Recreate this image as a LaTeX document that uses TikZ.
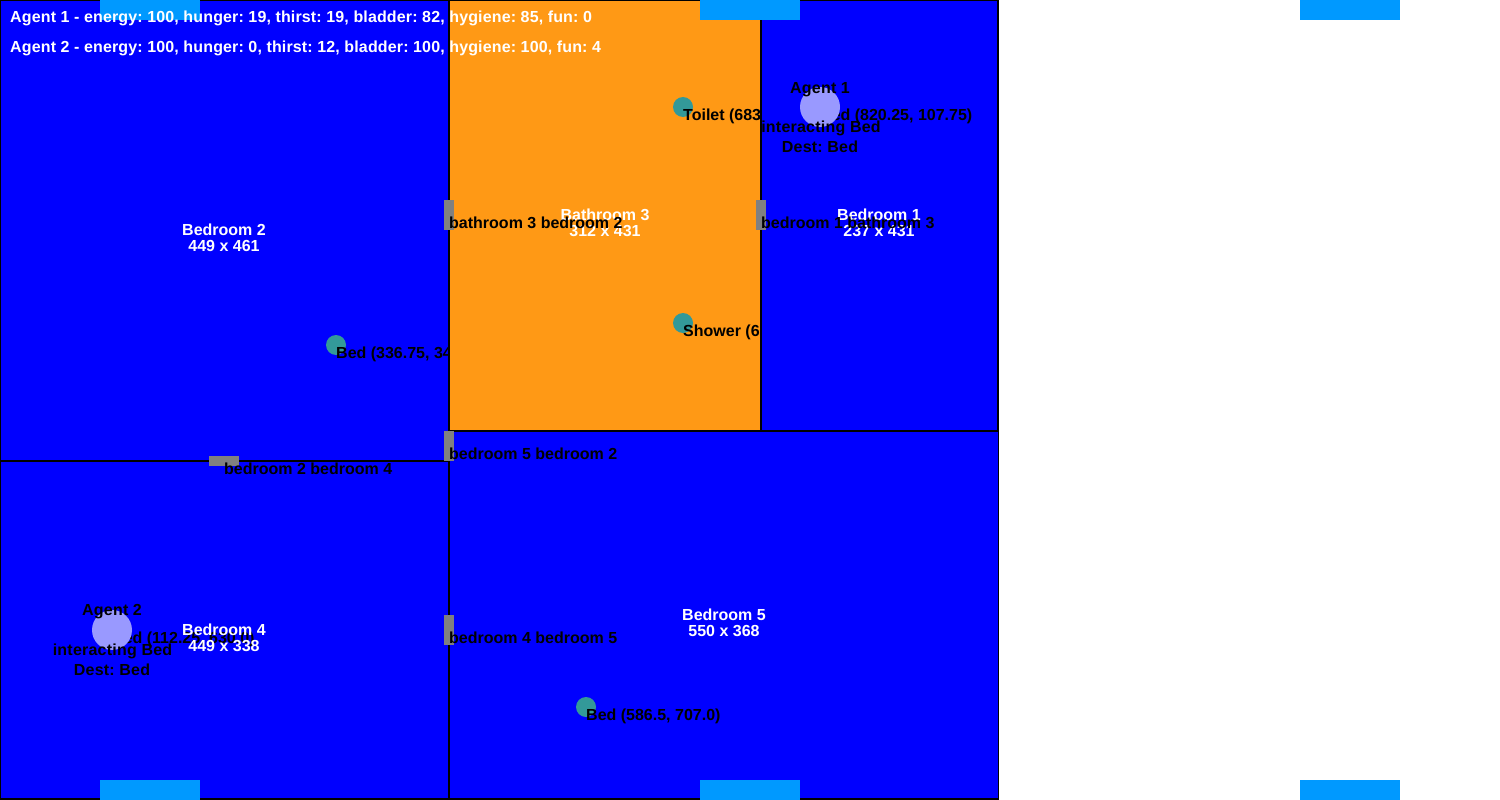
\documentclass[tikz,border=0pt]{standalone}
\usepackage{fontspec}
\setmainfont{Liberation Sans}
\definecolor{roomblue}{RGB}{0,0,255}
\definecolor{roomorange}{RGB}{255,153,21}
\definecolor{windowblue}{RGB}{0,153,255}
\definecolor{doorgray}{RGB}{128,128,128}
\definecolor{objteal}{RGB}{51,153,153}
\definecolor{agentlilac}{RGB}{153,153,255}
\tikzset{
  room/.style={draw=black,line width=1.5pt,fill=roomblue},
  bath/.style={draw=black,line width=1.5pt,fill=roomorange},
  windowbar/.style={fill=windowblue,draw=none},
  doorbar/.style={fill=doorgray,draw=none},
  lbl/.style={inner sep=0pt,font=\fontsize{16}{16}\selectfont\bfseries\frenchspacing},
  roomname/.style={lbl,text=white,anchor=base},
  stat/.style={lbl,font=\fontsize{16}{16}\selectfont\bfseries\frenchspacing\addfontfeatures{LetterSpace=0.9},text=white,anchor=base west},
  objlabel/.style={lbl,text=black,anchor=base west},
  agentlabel/.style={lbl,font=\fontsize{16}{16}\selectfont\bfseries\frenchspacing\addfontfeatures{LetterSpace=1.4},text=black,anchor=base},
  obj/.style={circle,fill=objteal,draw=none,minimum size=20pt,inner sep=0pt},
  agent/.style={circle,fill=agentlilac,draw=none,minimum size=40pt,inner sep=0pt}
}
\begin{document}
\begin{tikzpicture}[x=1pt,y=-1pt]
\useasboundingbox (0,0) rectangle (1500,800);
\fill[white] (0,0) rectangle (1500,800);
% Bedroom 2
\draw[room] (0,0) rectangle (449,461);
\node[obj] (bed2) at (336,345) {};
\node[objlabel] (bed2l) at (336,358) {Bed (336.75, 34};
% Bathroom 3
\draw[bath] (449,0) rectangle (761,431);
\node[obj] (toilet) at (683,107) {};
\node[obj] (shower) at (683,323) {};
\node[objlabel] (toiletl) at (683,120) {Toilet (683};
\node[objlabel] (showerl) at (683,336) {Shower (6};
% Bedroom 1
\draw[room] (761,0) rectangle (998,431);
\node[objlabel] (bed1l) at (820,120) {Bed (820.25, 107.75)};
% Bedroom 4
\draw[room] (0,461) rectangle (449,799);
\node[objlabel] (bed4l) at (112,643) {Bed (112.25, 630.0)};
% Bedroom 5
\draw[room] (449,431) rectangle (998.3,799);
\node[obj] (bed5) at (586,707) {};
\node[objlabel] (bed5l) at (586,720) {Bed (586.5, 707.0)};
% Room names
\node[roomname] (r2a) at (224,235) {Bedroom 2};
\node[roomname] (r2b) at (224,251) {449 x 461};
\node[roomname] (r3a) at (605,220) {Bathroom 3};
\node[roomname] (r3b) at (605,236) {312 x 431};
\node[roomname] (r1a) at (879,220) {Bedroom 1};
\node[roomname] (r1b) at (879,236) {237 x 431};
\node[roomname] (r4a) at (224,635) {Bedroom 4};
\node[roomname] (r4b) at (224,651) {449 x 338};
\node[roomname] (r5a) at (724,620) {Bedroom 5};
\node[roomname] (r5b) at (724,636) {550 x 368};
% Windows
\foreach \wx in {100,700,1300}{
  \fill[windowbar] (\wx,0) rectangle ++(100,20);
  \fill[windowbar] (\wx,780) rectangle ++(100,20);
}
% Doors
\fill[doorbar] (444,200) rectangle (454,230);
\fill[doorbar] (756,200) rectangle (766,230);
\fill[doorbar] (444,431) rectangle (454,461);
\fill[doorbar] (209,456) rectangle (239,466);
\fill[doorbar] (444,615) rectangle (454,645);
\node[objlabel] (d1) at (449,228) {bathroom 3 bedroom 2};
\node[objlabel] (d2) at (761,228) {bedroom 1 bathroom 3};
\node[objlabel] (d3) at (449,459) {bedroom 5 bedroom 2};
\node[objlabel] (d4) at (224,474) {bedroom 2 bedroom 4};
\node[objlabel] (d5) at (449,643) {bedroom 4 bedroom 5};
% Agents
\node[agent] (a1) at (820,107) {};
\node[agentlabel] (a1n) at (820,93) {Agent 1};
\node[agentlabel] (a1s) at (821,132) {interacting Bed};
\node[agentlabel] (a1d) at (820,152) {Dest: Bed};
\node[agent] (a2) at (112,630) {};
\node[agentlabel] (a2n) at (112,615) {Agent 2};
\node[agentlabel] (a2s) at (112.5,655) {interacting Bed};
\node[agentlabel] (a2d) at (112,675) {Dest: Bed};
% Stats
\node[stat] (s1) at (10,23) {Agent 1 - energy: 100, hunger: 19, thirst: 19, bladder: 82, hygiene: 85, fun: 0};
\node[stat] (s2) at (10,53) {Agent 2 - energy: 100, hunger: 0, thirst: 12, bladder: 100, hygiene: 100, fun: 4};
\end{tikzpicture}
\end{document}
